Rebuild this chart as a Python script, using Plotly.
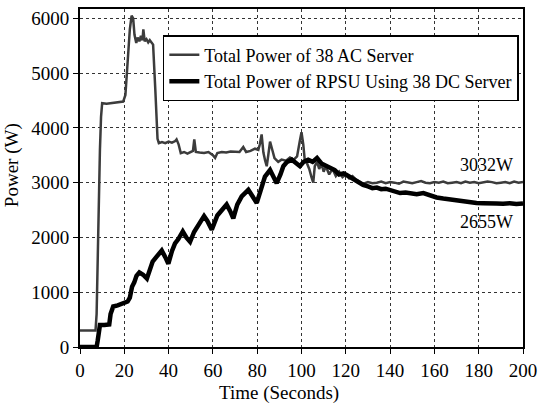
import plotly.graph_objects as go

# AC servers, total power (W) vs time (s)
ac_time = [0, 7, 7.5, 8, 8.5, 9, 9.5, 10, 12, 14, 16, 18, 19.5, 20.5, 21.5, 22.5, 23.3, 24,
           24.6, 25.4, 26, 26.8, 27.5, 28.2, 28.6, 29.2, 30, 30.8, 31.5, 32.5, 33, 34, 35, 35.6,
           37, 38.5, 40, 41.5, 43, 43.6, 44.5, 45.5, 47, 48.5, 50, 51, 51.6, 52.3, 54, 56, 58,
           60, 61, 62, 64, 66, 68, 70, 72, 73.7, 75, 77, 79, 80.5, 81.2, 82, 82.8, 83.6, 84.3,
           85, 85.8, 86.8, 87.8, 89.5, 91, 93, 94.8, 96.5, 98, 99.2, 100, 100.8, 101.5, 102.5,
           103.5, 104.5, 105.3, 106, 107, 108, 109, 110, 111, 112.5, 114, 115.5, 117, 118.5,
           120, 121.5, 123, 124.5, 126, 128, 130, 132, 134, 136, 138, 140, 142, 144, 146, 148,
           150, 152, 154, 156, 158, 160, 162, 164, 166, 168, 170, 172, 174, 176, 178, 180,
           182, 184, 186, 188, 190, 192, 194, 196, 198, 200]
ac_power = [300, 300, 600, 1800, 2900, 3600, 4200, 4450, 4440, 4450, 4450, 4460, 4480, 4600,
            5200, 5800, 6050, 6000, 5700, 5550, 5650, 5580, 5680, 5600, 5800, 5580, 5620, 5560,
            5600, 5550, 5520, 4700, 3800, 3720, 3740, 3720, 3750, 3730, 3760, 3790, 3700, 3540,
            3560, 3530, 3560, 3580, 3790, 3560, 3550, 3540, 3560, 3500, 3450, 3540, 3560, 3550,
            3570, 3560, 3560, 3650, 3560, 3580, 3620, 3600, 3700, 3880, 3550, 3400, 3300, 3500,
            3750, 3600, 3450, 3380, 3420, 3400, 3460, 3420, 3480, 3750, 3920, 3700, 3400, 3350,
            3250, 3100, 3000, 3300, 3380, 3250, 3350, 3200, 3300, 3150, 3250, 3120, 3200, 3100,
            3150, 3080, 3120, 3060, 3030, 2980, 3010, 2990, 3000, 3020, 2990, 3010, 3000, 2980,
            3020, 3000, 2990, 3010, 3030, 3000, 2990, 3010, 3000, 3020, 2990, 3000, 3010, 2990,
            3020, 3000, 3010, 2990, 3000, 3020, 3010, 2990, 3000, 3010, 2990, 3020, 3000, 3010]

# RPSU with DC servers, total power (W) vs time (s)
dc_time = [0, 7.5, 8, 8.5, 9, 11, 13.2, 13.8, 15, 17, 19, 20, 21.5, 22.5, 23.5, 24.5, 25.5,
           26.8, 28.5, 30.2, 31.5, 32.8, 34.6, 36.9, 38.5, 39.9, 41.5, 42.9, 44.4, 46.4, 48,
           49.7, 51.5, 53.9, 56, 57.5, 59.5, 62, 64.4, 66.2, 67.8, 69.2, 71, 73, 76, 78, 79.8,
           81.5, 83.5, 85.8, 87.5, 88.8, 90.5, 91.8, 93.5, 95.6, 97.5, 99.3, 101, 103, 105,
           107, 109, 111.4, 113, 115, 117, 119, 120.4, 122, 124, 125.5, 127.8, 130, 132, 134,
           136, 138, 140, 142, 144.5, 147, 150, 152, 155, 158, 161, 164, 167, 170, 173, 176,
           179, 182, 185, 188, 191, 194, 197, 200]
dc_power = [0, 0, 120, 380, 400, 400, 410, 600, 740, 760, 800, 810, 830, 900, 1100, 1180, 1300,
            1360, 1320, 1250, 1400, 1560, 1650, 1760, 1640, 1520, 1750, 1890, 1970, 2110, 2000,
            1920, 2100, 2260, 2390, 2300, 2140, 2400, 2530, 2600, 2480, 2350, 2600, 2750, 2870,
            2750, 2630, 2850, 3110, 3230, 3100, 2990, 3150, 3300, 3380, 3420, 3360, 3300, 3380,
            3420, 3380, 3450, 3350, 3300, 3250, 3230, 3150, 3170, 3140, 3100, 3050, 3000, 2960,
            2930, 2900, 2910, 2880, 2890, 2870, 2840, 2810, 2820, 2800, 2790, 2810, 2760, 2730,
            2710, 2690, 2670, 2660, 2640, 2630, 2625, 2630, 2620, 2615, 2625, 2610, 2620]

x_ticks = list(range(0, 201, 20))
y_ticks = list(range(0, 6001, 1000))

FONT = "Liberation Serif, DejaVu Serif, serif"

fig = go.Figure()
fig.add_trace(go.Scatter(
    x=ac_time, y=ac_power, mode="lines", name="Total Power of 38 AC Server",
    line=dict(color="#3c3c3c", width=2.5),
))
fig.add_trace(go.Scatter(
    x=dc_time, y=dc_power, mode="lines", name="Total Power of RPSU Using 38 DC Server",
    line=dict(color="black", width=4.5),
))

axis_common = dict(
    showline=True, linecolor="black", linewidth=2, mirror=True,
    showgrid=True, gridcolor="#333333", gridwidth=1, griddash="dot",
    ticks="outside", ticklen=5, tickcolor="black", zeroline=False, automargin=False,
    tickfont=dict(family=FONT, size=19, color="black"),
)
fig.update_xaxes(range=[0, 200], tickvals=x_ticks, **axis_common)
fig.update_yaxes(range=[0, 6170], tickvals=y_ticks, **axis_common)

fig.add_annotation(text="Time (Seconds)", xref="paper", yref="paper", x=0.449, y=-0.136,
                   xanchor="center", yanchor="middle", showarrow=False,
                   font=dict(family=FONT, size=19, color="black"))
fig.add_annotation(text="Power (W)", xref="paper", yref="paper", x=-0.1535, y=0.538,
                   xanchor="center", yanchor="middle", textangle=-90, showarrow=False,
                   font=dict(family=FONT, size=19, color="black"))
fig.add_annotation(text="3032W", x=183.6, y=3327, showarrow=False,
                   font=dict(family=FONT, size=18, color="black"))
fig.add_annotation(text="2655W", x=183.6, y=2291, showarrow=False,
                   font=dict(family=FONT, size=18, color="black"))

fig.update_layout(
    width=538, height=406,
    margin=dict(l=80, r=15, t=9, b=59),
    paper_bgcolor="white", plot_bgcolor="white",
    font=dict(family=FONT, size=18, color="black"),
    showlegend=True,
    legend=dict(x=0.187, y=0.923, xanchor="left", yanchor="top",
                bgcolor="white", bordercolor="black", borderwidth=1.5,
                font=dict(family=FONT, size=18, color="black"),
                tracegroupgap=0, itemwidth=30),
)
# drop the default 8px body margin so the figure fills the window exactly
fig.write_html("out.html", config={"displayModeBar": False},
               post_script="document.body.style.margin='0';")
